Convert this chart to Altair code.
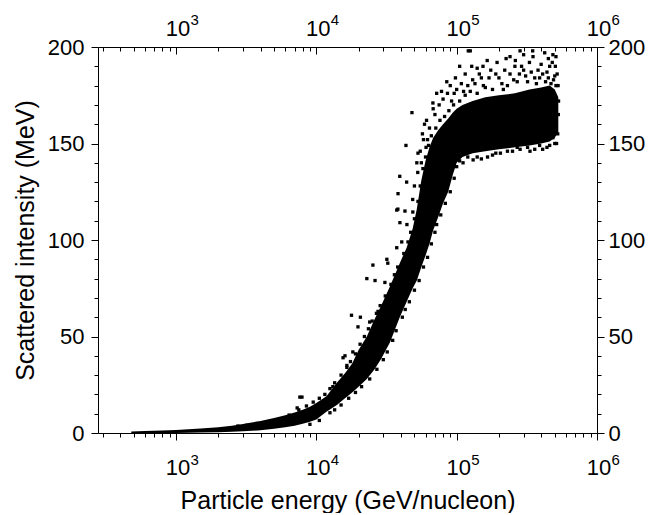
import altair as alt
import pandas as pd

# ---- dense core of the cloud: lower / upper edge at each energy ----
band_energy = [480, 600, 800, 1000, 1500, 2000, 2500, 3000, 4000, 5000, 6000, 7000,
               8000, 9000, 10000, 11800, 14000, 16000, 18000, 20000, 22900, 26000,
               29000, 33500, 39300, 44000, 48600, 52000, 56000, 60000, 64000, 68000,
               74000, 80000, 87000, 94000, 100000, 110000, 130000, 160000, 200000,
               260000, 330000, 400000, 460000, 500000, 530000]
band_low = [0, 0, 0, 0, 0.2, 0.4, 0.6, 0.9, 1.4, 2.2, 3.0, 3.8,
            4.8, 5.8, 7.0, 11, 14.5, 18, 21, 24, 28, 33,
            38.5, 47, 60, 68, 75, 79, 86, 92, 98, 105,
            112, 119, 125, 134, 140, 143, 145, 146, 147,
            148, 149, 150, 151, 153, 156]
band_high = [0.8, 1.0, 1.3, 1.6, 2.3, 3.0, 3.8, 4.6, 6.2, 7.8, 9.2, 10.6,
             12.0, 13.6, 15.5, 19, 26, 31, 36, 43, 50, 59,
             66, 76, 88, 96, 106, 116, 131, 141, 148, 153,
             157, 160, 163, 166, 168, 170, 172, 174, 175,
             176, 178, 179, 180, 178, 174]

# ---- isolated points along the rising part ----
outlier_a_energy = [7300, 7900, 13100, 15500, 16000, 16500, 18200, 17800, 19800, 20600,
                    26800, 22900, 26200, 25300, 24000, 2760, 3200, 3770, 4650, 5500,
                    6400, 7630]
outlier_a_value = [13, 18.6, 24, 39, 40, 35, 42, 61, 55, 60,
                   62, 80, 79, 87, 57.5, 3.6, 4, 5, 6, 7,
                   9.3, 18.6]

# ---- isolated points near the knee and above the plateau ----
outlier_b_energy = [30800, 31800, 32300, 37400, 40600, 39400, 44200, 38100, 42800, 48700,
                    37400, 39300, 44000, 38200, 48600, 43500, 48000, 52800, 61000, 67700,
                    78000, 85000, 105000, 128000, 154000, 121000, 194000, 240000, 283000,
                    348000, 424000, 485000, 510000, 262000, 125000]
outlier_b_value = [78, 90, 88, 96, 99, 109, 108, 116, 115, 114.5,
                   115.5, 133, 130, 124, 121, 149, 166, 135, 162, 171,
                   177, 182, 190, 190, 190, 198, 192, 195, 198,
                   198, 197, 196, 195, 193, 198]

# ---- ragged points on the lower / right side of the core ----
lower_energy = [9000, 10500, 12500, 13500, 15000, 17000, 19000, 21000, 24000, 27000,
                30000, 32000, 35000, 37000, 41000, 43000, 46000, 50000, 54000, 58000,
                62000, 66000, 70000, 72000, 77000, 83000, 90000, 96000, 111000, 131000,
                166000, 205000, 283000, 333000, 410000, 485000, 500000, 440000, 250000,
                180000, 150000, 120000, 100000, 105000, 140000, 190000, 230000, 270000,
                320000, 360000, 390000, 460000, 515000, 525000, 530000, 532000, 528000]
lower_value = [4.5, 6.5, 10.5, 12, 14.5, 18, 21, 24, 28, 33,
               38, 42, 48, 53, 60, 64, 68, 74, 79, 86,
               91, 98, 104, 108, 113, 119, 125, 132, 140, 141.5,
               143, 145, 147, 146, 147, 153, 150, 148, 146,
               144, 142, 143, 138, 141, 143, 145, 146, 148,
               148, 147, 149, 149, 150, 155, 165, 172, 180]

# ---- ragged points on the upper / left side of the core ----
upper_energy = [7500, 8500, 9500, 10500, 11500, 12500, 13500, 15000, 16500, 17500,
                19000, 20500, 22000, 23500, 25000, 27500, 28500, 31000, 34000, 36000,
                38000, 42000, 45000, 47000, 50000, 53000, 55000, 57500, 60000, 63000,
                66000, 71000, 76000, 82000, 88000, 95000, 64000, 58000, 55000, 52000,
                62000, 50000, 53000, 57000, 59000, 60500, 56000, 70000, 68000, 75000,
                80000, 72000, 86000, 92000, 96000]
upper_value = [12, 14, 16, 18, 20, 23, 26, 30, 34, 37,
               41, 46, 50, 54, 58, 63, 66, 71, 77, 82,
               86, 93, 99, 104, 111, 120, 128, 137, 143, 149,
               154, 158, 162, 164, 167, 170, 158, 152, 146, 140,
               152, 128, 145, 155, 160, 148, 140, 165, 168, 170,
               173, 176, 176, 172, 176]

# ---- dense scatter along the top of the plateau ----
plateau_energy = [105000, 115000, 125000, 140000, 160000, 180000, 210000, 230000, 270000,
                  310000, 360000, 380000, 440000, 500000, 190000, 220000, 290000, 330000,
                  400000, 460000, 150000, 135000, 100000, 112000, 120000, 130000, 145000,
                  155000, 170000, 175000, 200000, 215000, 240000, 255000, 280000, 300000,
                  320000, 340000, 370000, 390000, 410000, 430000, 450000, 470000, 490000,
                  510000, 520000, 505000, 480000, 450000, 350000, 300000, 260000, 225000,
                  165000, 140000, 115000, 98000, 90000, 108000]
plateau_value = [172, 175, 177, 176, 179, 178, 181, 180, 182,
                 185, 184, 188, 187, 185, 186, 188, 190, 192,
                 191, 190, 184, 181, 178, 177, 180, 183, 186,
                 180, 184, 188, 184, 178, 186, 183, 186, 188,
                 182, 187, 181, 184, 186, 182, 184, 181, 183,
                 180, 186, 190, 192, 194, 195, 196, 190, 194,
                 193, 189, 186, 184, 180, 181]

x_major = [1000, 10000, 100000, 1000000]
x_exponent = ["3", "4", "5", "6"]
x_minor = [300, 400, 500, 600, 700, 800, 900,
           2000, 3000, 4000, 5000, 6000, 7000, 8000, 9000,
           20000, 30000, 40000, 50000, 60000, 70000, 80000, 90000,
           200000, 300000, 400000, 500000, 600000, 700000, 800000, 900000]
y_major = [0, 50, 100, 150, 200]
y_minor = [10, 20, 30, 40, 60, 70, 80, 90, 110, 120, 130, 140, 160, 170, 180, 190]

FONT = "Liberation Sans"
LABEL_SIZE = 22
EXP_SIZE = 15
TITLE_SIZE = 25


def df(e, v, name="value"):
    return pd.DataFrame({"energy": e, name: v})


band_df = pd.DataFrame({"energy": band_energy, "low": band_low, "high": band_high})

xscale = alt.Scale(type="log", domain=[278, 1000000], nice=False)
yscale = alt.Scale(domain=[0, 200], nice=False, zero=False)

exp_expr = " : ".join(
    f"datum.value == {v} ? '{e}'" for v, e in zip(x_major[:-1], x_exponent[:-1])
) + f" : '{x_exponent[-1]}'"

common = dict(labelFont=FONT, titleFont=FONT, labelColor="black", titleColor="black",
              domainColor="black", tickColor="black", grid=False, labelFlush=False,
              labelOverlap=False, titleFontWeight="normal", domainWidth=1, tickWidth=1)

ax_bottom = alt.Axis(orient="bottom", values=x_major, tickSize=7, labelExpr="'10'",
                     labelFontSize=LABEL_SIZE, labelPadding=34, labelBaseline="alphabetic",
                     labelOffset=1.5,
                     title="Particle energy (GeV/nucleon)", titleFontSize=TITLE_SIZE,
                     titlePadding=10, **common)
ax_bottom_minor = alt.Axis(orient="bottom", values=x_minor, tickSize=4, labels=False,
                           title=None, domain=False, **common)
ax_bottom_exp = alt.Axis(orient="bottom", values=x_major, tickSize=0, labelExpr=exp_expr,
                         labelFontSize=EXP_SIZE, labelPadding=31, labelBaseline="alphabetic",
                         labelAlign="left", labelOffset=14, title=None, domain=False, **common)
ax_top = alt.Axis(orient="top", values=x_major, tickSize=alt.ExprRef("-7"),
                  labelExpr="'10'", labelFontSize=LABEL_SIZE, labelPadding=18.5,
                  labelBaseline="alphabetic", labelOffset=1.5, title=None, **common)
ax_top_minor = alt.Axis(orient="top", values=x_minor, tickSize=alt.ExprRef("-4"),
                        labels=False, title=None, domain=False, **common)
ax_top_exp = alt.Axis(orient="top", values=x_major, tickSize=0, labelExpr=exp_expr,
                      labelFontSize=EXP_SIZE, labelPadding=23, labelBaseline="alphabetic",
                      labelAlign="left", labelOffset=14, title=None, domain=False, **common)
ax_left = alt.Axis(orient="left", values=y_major, tickSize=7, labelFontSize=LABEL_SIZE,
                   labelPadding=7, title="Scattered intensity (MeV)",
                   titleFontSize=TITLE_SIZE, titlePadding=9, **common)
ax_left_minor = alt.Axis(orient="left", values=y_minor, tickSize=4, labels=False,
                         title=None, domain=False, **common)
ax_right = alt.Axis(orient="right", values=y_major, tickSize=7, labelFontSize=LABEL_SIZE,
                    labelPadding=4, title=None, **common)
ax_right_minor = alt.Axis(orient="right", values=y_minor, tickSize=4, labels=False,
                          title=None, domain=False, **common)

band = alt.Chart(band_df).mark_area(color="black", opacity=1).encode(
    x=alt.X("energy:Q", scale=xscale, axis=ax_bottom),
    y=alt.Y("low:Q", scale=yscale, axis=ax_left),
    y2="high:Q",
)


def pts(data, xaxis, yaxis):
    return alt.Chart(data).mark_square(size=11, color="black", opacity=1).encode(
        x=alt.X("energy:Q", scale=xscale, axis=xaxis),
        y=alt.Y("value:Q", scale=yscale, axis=yaxis),
    )


layers = [
    band,
    pts(df(outlier_a_energy, outlier_a_value), ax_bottom_minor, ax_left_minor),
    pts(df(outlier_b_energy, outlier_b_value), ax_bottom_exp, None),
    pts(df(lower_energy, lower_value), ax_top, ax_right),
    pts(df(upper_energy, upper_value), ax_top_minor, ax_right_minor),
    pts(df(plateau_energy, plateau_value), ax_top_exp, None),
]

chart = alt.layer(*layers).resolve_axis(
    x="independent", y="independent"
).properties(
    width=499, height=386,
    autosize=alt.AutoSizeParams(type="none"),
    padding={"left": 90, "top": 39, "right": 48, "bottom": 80},
).configure_view(stroke=None)

chart.save("out.html", embed_options={"renderer": "svg", "actions": False})
